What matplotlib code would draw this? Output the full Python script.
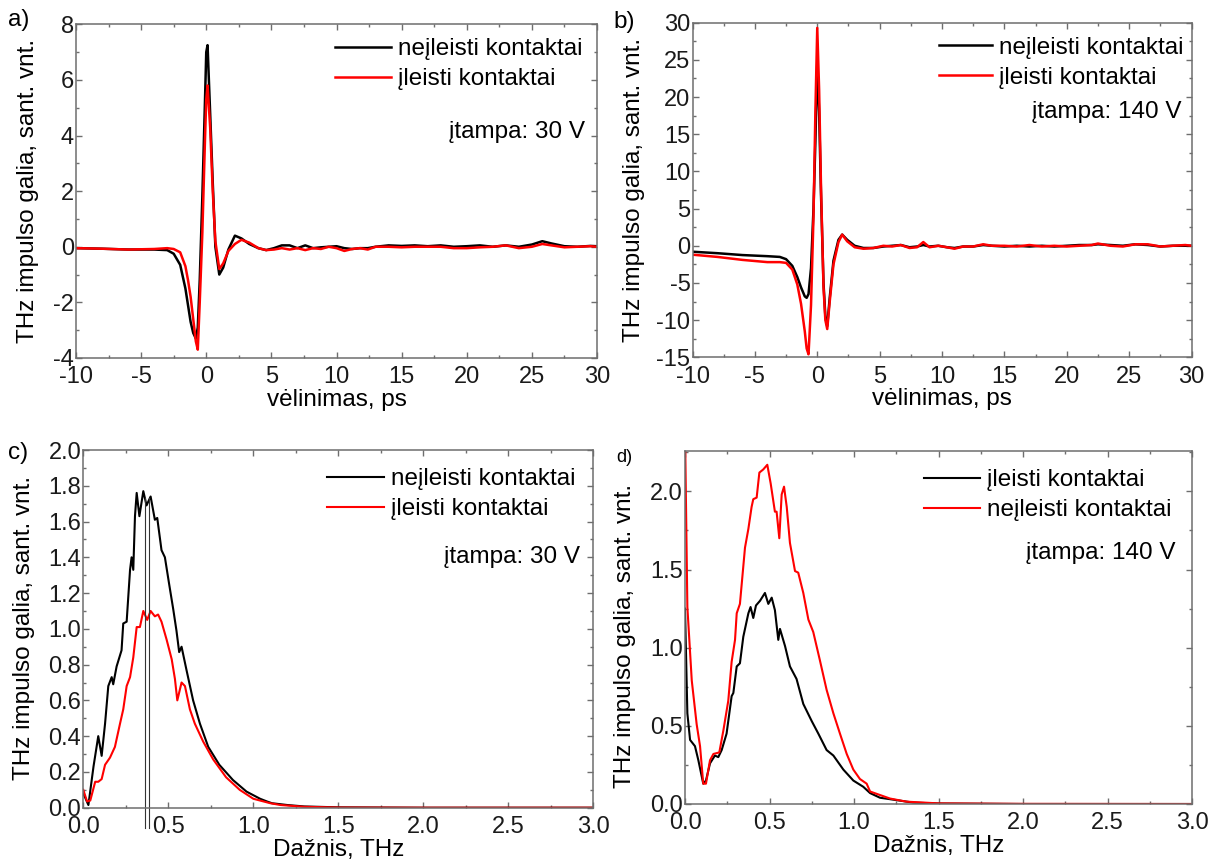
import numpy as np
import matplotlib
matplotlib.use("Agg")
import matplotlib.pyplot as plt
from matplotlib.ticker import MultipleLocator, FormatStrFormatter

plt.rcParams['font.family'] = ['Liberation Sans', 'DejaVu Sans']
plt.rcParams['axes.unicode_minus'] = False

W, H = 1220, 864

###### a) time domain, 30 V ######
t_a = [-10, -8, -6, -4, -3, -2.5, -2.0, -1.6, -1.4, -1.2, -1.0, -0.8, -0.65, -0.5, -0.3,
       -0.1, 0.0, 0.1, 0.3, 0.5, 0.7, 1.0, 1.3, 1.7, 2.2, 2.7, 3.3, 4.0, 4.6, 5.2, 5.8, 6.4,
       7.0, 7.6, 8.2, 8.8, 9.4, 10, 10.6, 11.2, 11.8, 12.4, 13, 14, 15, 16, 17, 18, 19, 20,
       21, 22, 23, 24, 25, 25.8, 26.5, 27.5, 28.5, 29.5, 30]
a_black = [-0.05, -0.07, -0.1, -0.1, -0.12, -0.25, -0.65, -1.5, -2.1, -2.7, -3.1, -3.3, -2.9,
           -1.2, 1.8, 5.2, 7.0, 7.25, 4.8, 2.3, 0.0, -1.0, -0.75, -0.1, 0.4, 0.3, 0.1, -0.05,
           -0.12, -0.05, 0.05, 0.05, -0.05, 0.05, -0.05, -0.02, 0.0, 0.02, -0.05, -0.08,
           -0.05, -0.05, 0.0, 0.05, 0.03, 0.05, 0.02, 0.05, 0.0, 0.02, 0.05, 0.0, 0.05, 0.0,
           0.08, 0.2, 0.12, 0.02, 0.0, 0.03, 0.02]
a_red = [-0.05, -0.07, -0.1, -0.08, -0.05, -0.08, -0.2, -0.7, -1.2, -1.8, -2.6, -3.4, -3.7,
         -2.0, 0.5, 3.8, 5.3, 5.8, 4.3, 2.0, 0.2, -0.8, -0.6, -0.15, 0.1, 0.25, 0.15, -0.05,
         -0.12, -0.1, -0.05, -0.1, -0.05, -0.12, -0.05, -0.08, 0.0, -0.05, -0.15, -0.08,
         -0.05, -0.1, 0.0, 0.0, -0.02, 0.0, 0.0, 0.0, -0.05, -0.05, -0.02, 0.0, 0.05, -0.05,
         0.0, 0.1, 0.05, -0.02, 0.0, 0.02, 0.0]

###### b) time domain, 140 V ######
t_b = [-10, -8, -6, -4, -3, -2.5, -2.0, -1.6, -1.3, -1.0, -0.85, -0.7, -0.5, -0.3, -0.15,
       0.0, 0.15, 0.3, 0.5, 0.65, 0.8, 1.0, 1.3, 1.7, 2.0, 2.4, 3.0, 3.7, 4.5, 5.3, 6.0,
       6.7, 7.4, 8.0, 8.5, 9.0, 9.7, 10.4, 11.0, 11.7, 12.5, 13.3, 14, 15, 16, 17, 18, 19,
       20, 21, 22, 22.5, 23.5, 24.5, 25.5, 26.5, 27.5, 28.5, 29.5, 30]
b_black = [-0.8, -1.0, -1.25, -1.4, -1.5, -1.8, -2.7, -4.2, -5.6, -6.8, -7.0, -6.5, -3.0,
           5.0, 14.0, 24.5, 18.0, 7.0, -5.0, -9.5, -10.8, -7.0, -2.0, 0.8, 1.5, 0.8, 0.0,
           -0.3, -0.3, -0.1, 0.0, 0.1, -0.2, -0.1, 0.1, -0.1, 0.0, -0.2, -0.3, -0.1, -0.1,
           0.1, 0.0, -0.1, 0.0, -0.1, 0.0, -0.1, 0.0, 0.1, 0.1, 0.2, 0.1, 0.0, 0.2, 0.1,
           -0.1, 0.0, 0.0, 0.0]
b_red = [-1.2, -1.5, -1.9, -2.2, -2.2, -2.3, -3.2, -5.2, -7.8, -11.5, -13.8, -14.6, -8.0,
         4.0, 18.0, 29.3, 21.0, 8.0, -5.5, -10.0, -11.2, -7.5, -2.5, 0.5, 1.5, 0.6, -0.2,
         -0.4, -0.3, 0.0, -0.1, 0.1, -0.3, -0.2, 0.5, -0.2, 0.0, -0.2, -0.4, -0.1, -0.1,
         0.2, 0.0, 0.0, -0.1, 0.1, -0.1, 0.0, -0.1, 0.0, 0.1, 0.3, 0.0, -0.1, 0.2, 0.2,
         -0.1, 0.0, 0.1, 0.0]

###### c) spectra, 30 V ######
f_c_black = [0.0, 0.03, 0.06, 0.088, 0.108, 0.128, 0.147, 0.167, 0.176, 0.196, 0.225, 0.235,
             0.255, 0.275, 0.284, 0.294, 0.304, 0.314, 0.33, 0.353, 0.372, 0.396, 0.421,
             0.435, 0.46, 0.48, 0.505, 0.529, 0.548, 0.564, 0.578, 0.607, 0.646, 0.686,
             0.735, 0.80, 0.88, 0.96, 1.04, 1.08, 1.11, 1.2, 1.3, 1.5, 2.0, 3.0]
c_black = [0.08, 0.015, 0.23, 0.40, 0.29, 0.47, 0.68, 0.73, 0.69, 0.79, 0.88, 1.03, 1.04,
           1.33, 1.40, 1.33, 1.63, 1.76, 1.63, 1.77, 1.69, 1.74, 1.61, 1.62, 1.44, 1.40,
           1.25, 1.11, 0.99, 0.87, 0.90, 0.77, 0.60, 0.47, 0.34, 0.24, 0.155, 0.09, 0.05,
           0.035, 0.025, 0.015, 0.007, 0.002, 0.0, 0.0]
f_c_red = [0.0, 0.022, 0.041, 0.07, 0.088, 0.108, 0.128, 0.157, 0.186, 0.216, 0.235, 0.255,
           0.275, 0.294, 0.314, 0.333, 0.353, 0.376, 0.396, 0.421, 0.44, 0.46, 0.49, 0.52,
           0.539, 0.553, 0.578, 0.598, 0.627, 0.656, 0.705, 0.764, 0.84, 0.92, 1.0, 1.06,
           1.1, 1.16, 1.3, 1.5, 2.0, 3.0]
c_red = [0.1, 0.035, 0.04, 0.145, 0.145, 0.16, 0.24, 0.28, 0.34, 0.47, 0.55, 0.68, 0.73,
         0.84, 1.01, 1.01, 1.10, 1.05, 1.10, 1.07, 1.08, 1.04, 0.94, 0.83, 0.72, 0.60, 0.70,
         0.68, 0.55, 0.47, 0.37, 0.27, 0.17, 0.10, 0.05, 0.035, 0.025, 0.015, 0.005, 0.001,
         0.0, 0.0]
c_marks = [0.36, 0.384]

###### d) spectra, 140 V ######
f_d_black = [0.0, 0.014, 0.03, 0.059, 0.079, 0.108, 0.124, 0.148, 0.177, 0.197, 0.217, 0.246,
             0.276, 0.286, 0.306, 0.325, 0.345, 0.375, 0.388, 0.404, 0.42, 0.444, 0.473,
             0.493, 0.513, 0.532, 0.552, 0.562, 0.592, 0.621, 0.66, 0.70, 0.75, 0.789, 0.838,
             0.878, 0.937, 0.996, 1.055, 1.095, 1.154, 1.25, 1.35, 1.5, 2.0, 3.0]
d_black = [1.25, 0.58, 0.41, 0.37, 0.28, 0.13, 0.15, 0.26, 0.31, 0.30, 0.345, 0.45, 0.69,
           0.71, 0.88, 0.90, 1.07, 1.22, 1.26, 1.19, 1.27, 1.30, 1.35, 1.28, 1.32, 1.24, 1.05,
           1.12, 1.01, 0.88, 0.80, 0.64, 0.53, 0.45, 0.345, 0.31, 0.22, 0.15, 0.11, 0.07,
           0.04, 0.025, 0.009, 0.003, 0.0, 0.0]
f_d_red = [0.0, 0.014, 0.04, 0.069, 0.089, 0.108, 0.124, 0.148, 0.168, 0.203, 0.227, 0.256,
           0.276, 0.296, 0.306, 0.325, 0.355, 0.375, 0.394, 0.404, 0.424, 0.44, 0.463, 0.487,
           0.507, 0.532, 0.542, 0.558, 0.572, 0.586, 0.602, 0.621, 0.651, 0.67, 0.70, 0.73,
           0.759, 0.798, 0.838, 0.878, 0.917, 0.957, 0.996, 1.035, 1.075, 1.095, 1.134,
           1.213, 1.31, 1.5, 2.0, 3.0]
d_red = [2.4, 1.26, 0.79, 0.51, 0.37, 0.13, 0.13, 0.28, 0.32, 0.33, 0.47, 0.66, 0.91, 1.05,
         1.22, 1.28, 1.64, 1.76, 1.90, 1.95, 1.96, 2.12, 2.14, 2.17, 2.05, 1.87, 1.87, 1.70,
         1.98, 2.03, 1.90, 1.67, 1.49, 1.48, 1.35, 1.18, 1.10, 0.92, 0.73, 0.58, 0.45, 0.32,
         0.22, 0.16, 0.13, 0.08, 0.065, 0.035, 0.015, 0.004, 0.001, 0.0]

ylab = "THz impulso galia, sant. vnt."
FS = 17      # tick labels
LFS = 17.5   # axis labels, legends, notes
FRAME = '#6e6e6e'


def px_axes(l, t, r, b):
    return fig.add_axes([l / W, 1 - b / H, (r - l) / W, (b - t) / H])


def style(ax, xmaj, xmin, ymaj, ymin):
    ax.xaxis.set_major_locator(MultipleLocator(xmaj))
    ax.xaxis.set_minor_locator(MultipleLocator(xmin))
    ax.yaxis.set_major_locator(MultipleLocator(ymaj))
    ax.yaxis.set_minor_locator(MultipleLocator(ymin))
    ax.tick_params(which='both', direction='in', top=True, right=True, color=FRAME,
                   labelsize=FS, pad=1.5, labelcolor='#1a1a1a')
    ax.tick_params(axis='x', which='both', pad=6)
    ax.tick_params(which='major', length=4, width=1)
    ax.tick_params(which='minor', length=2.5, width=1)
    for s in ax.spines.values():
        s.set_color(FRAME)
        s.set_linewidth(1.1)


def legend(ax, lines, labels, x, y, hl):
    ax.legend(lines, labels, loc='upper left', bbox_to_anchor=(x / W, 1 - y / H),
              bbox_transform=fig.transFigure, frameon=False, borderpad=0,
              borderaxespad=0, handlelength=hl, handletextpad=0.3, labelspacing=0.33,
              fontsize=LFS)


fig = plt.figure(figsize=(12.2, 8.64), dpi=100)

# a)
ax = px_axes(76, 24.3, 597, 358)
l1, = ax.plot(t_a, a_black, color='black', lw=1.8)
l2, = ax.plot(t_a, a_red, color='red', lw=1.8)
ax.set_xlim(-10, 30)
ax.set_ylim(-4, 8)
style(ax, 5, 2.5, 2, 1)
ax.set_xlabel("vėlinimas, ps", fontsize=LFS, labelpad=0.5)
legend(ax, [l1, l2], ["neįleisti kontaktai", "įleisti kontaktai"], 335, 38, 2.3)
fig.text(585 / W, 1 - 131.7 / H, "įtampa: 30 V", ha='right', va='center', fontsize=LFS)
fig.text(28 / W, 1 - 191 / H, ylab, rotation=90, ha='center', va='center', fontsize=LFS)
fig.text(19 / W, 1 - 20 / H, "a)", ha='center', va='center', fontsize=LFS)

# b)
ax = px_axes(692.5, 22.7, 1191.5, 357.3)
l1, = ax.plot(t_b, b_black, color='black', lw=1.8)
l2, = ax.plot(t_b, b_red, color='red', lw=1.8)
ax.set_xlim(-10, 30)
ax.set_ylim(-15, 30)
style(ax, 5, 2.5, 5, 2.5)
ax.set_xlabel("vėlinimas, ps", fontsize=LFS, labelpad=0.5)
legend(ax, [l1, l2], ["neįleisti kontaktai", "įleisti kontaktai"], 938.7, 36.5, 2.2)
fig.text(1182 / W, 1 - 111.7 / H, "įtampa: 140 V", ha='right', va='center', fontsize=LFS)
fig.text(634 / W, 1 - 190 / H, ylab, rotation=90, ha='center', va='center', fontsize=LFS)
fig.text(624 / W, 1 - 22 / H, "b)", ha='center', va='center', fontsize=LFS)

# c)
ax = px_axes(83.3, 450, 593.3, 807.7)
l1, = ax.plot(f_c_black, c_black, color='black', lw=1.5)
l2, = ax.plot(f_c_red, c_red, color='red', lw=1.5)
for m in c_marks:
    ax.plot([m, m], [-0.114, 1.73], color='#333333', lw=0.8, clip_on=False)
ax.set_xlim(0, 3)
ax.set_ylim(0, 2)
style(ax, 0.5, 0.25, 0.2, 0.1)
ax.xaxis.set_major_formatter(FormatStrFormatter('%.1f'))
ax.yaxis.set_major_formatter(FormatStrFormatter('%.1f'))
ax.set_xlabel("Dažnis, THz", fontsize=LFS, labelpad=0.5)
legend(ax, [l1, l2], ["neįleisti kontaktai", "įleisti kontaktai"], 326.7, 468, 2.35)
fig.text(579.5 / W, 1 - 556.7 / H, "įtampa: 30 V", ha='right', va='center', fontsize=LFS)
fig.text(24.5 / W, 1 - 628 / H, ylab, rotation=90, ha='center', va='center', fontsize=LFS)
fig.text(18 / W, 1 - 453 / H, "c)", ha='center', va='center', fontsize=LFS)

# d)
ax = px_axes(685, 450.7, 1192, 804)
l1, = ax.plot(f_d_black, d_black, color='black', lw=1.5)
l2, = ax.plot(f_d_red, d_red, color='red', lw=1.5)
ax.set_xlim(0, 3)
ax.set_ylim(0, 2.26)
style(ax, 0.5, 0.25, 0.5, 0.25)
ax.xaxis.set_major_formatter(FormatStrFormatter('%.1f'))
ax.yaxis.set_major_formatter(FormatStrFormatter('%.1f'))
ax.set_xlabel("Dažnis, THz", fontsize=LFS, labelpad=0.5)
legend(ax, [l1, l2], ["įleisti kontaktai", "neįleisti kontaktai"], 924, 469, 2.3)
fig.text(1176 / W, 1 - 553 / H, "įtampa: 140 V", ha='right', va='center', fontsize=LFS)
fig.text(625 / W, 1 - 636 / H, ylab, rotation=90, ha='center', va='center', fontsize=LFS)
fig.text(624 / W, 1 - 458 / H, "d)", ha='center', va='center', fontsize=13)

fig.savefig("out.png", dpi=100)
